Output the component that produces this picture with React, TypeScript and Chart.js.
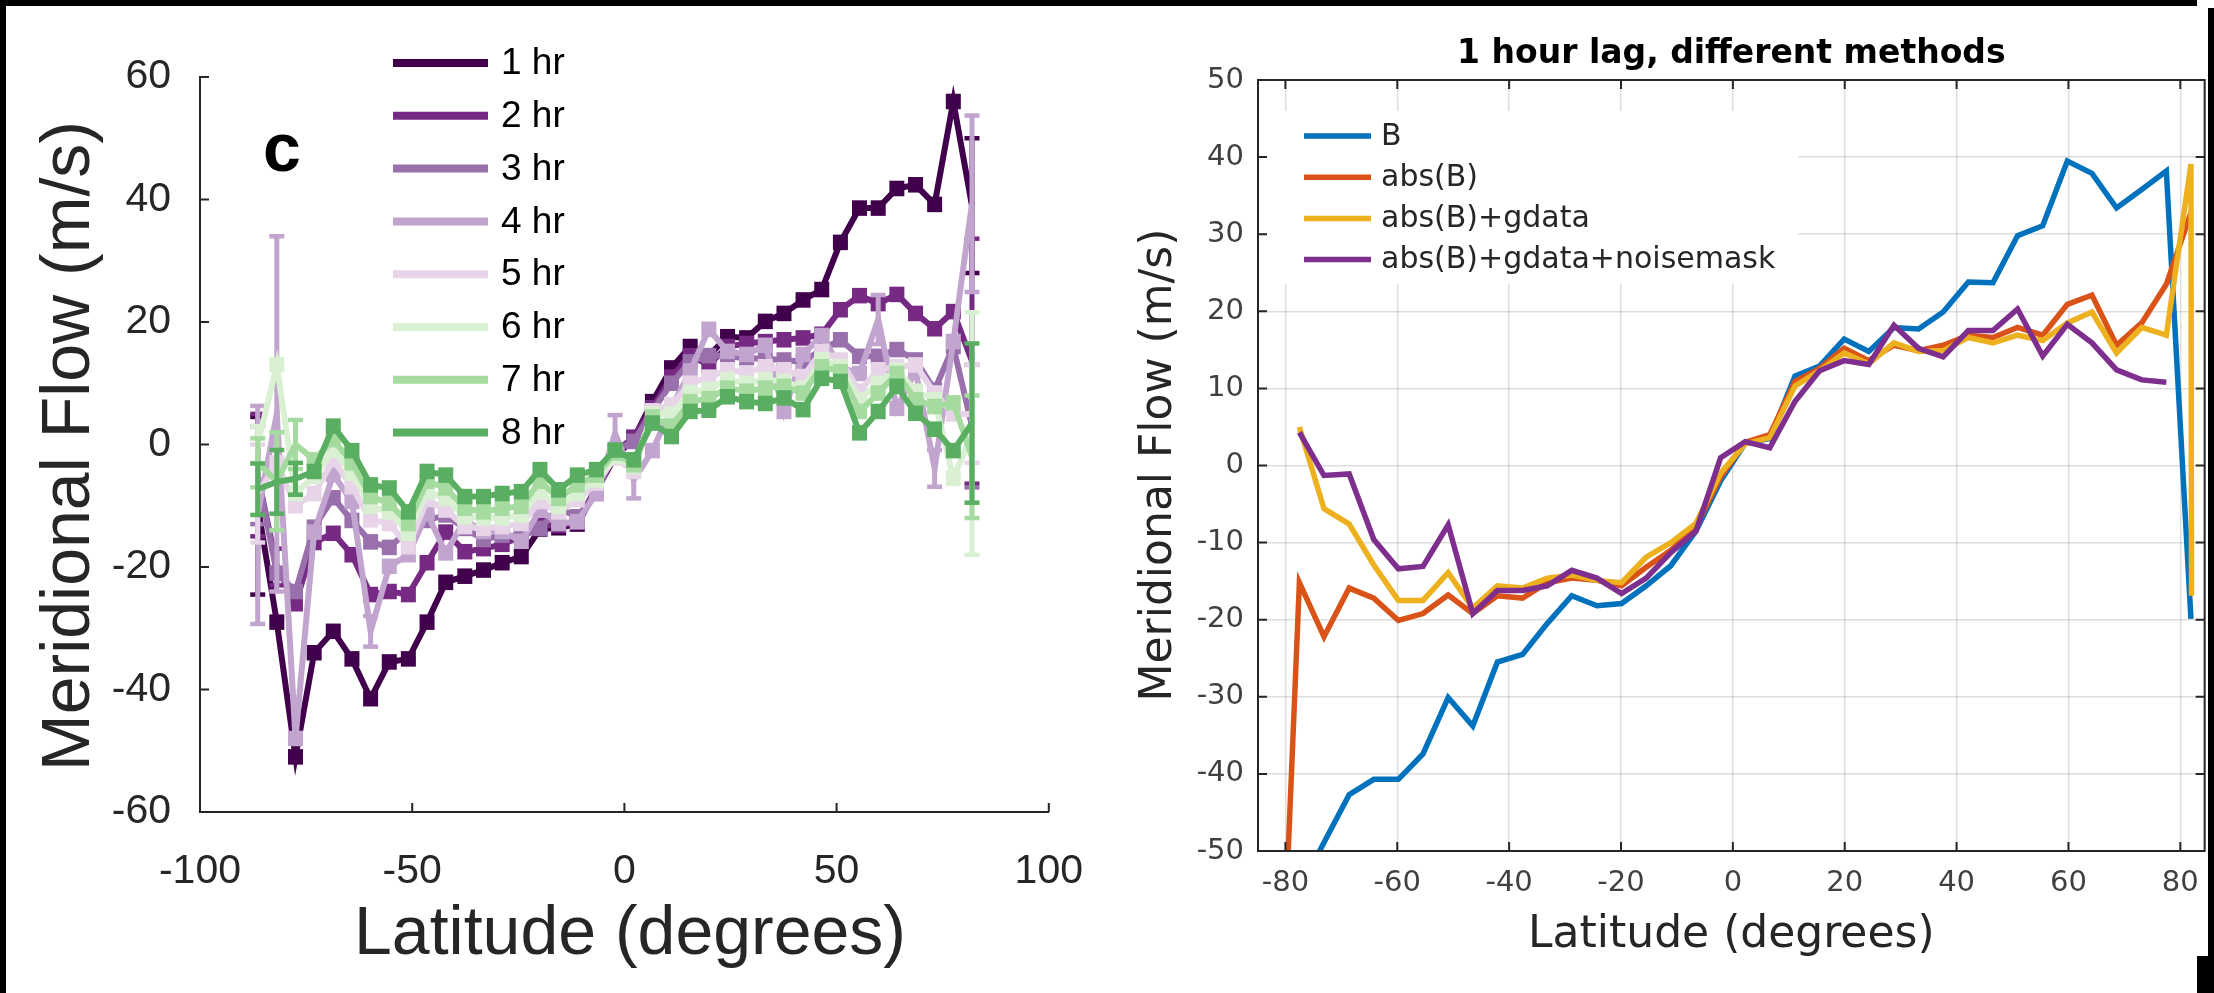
import React, { useEffect, useRef } from 'react';
import { Chart, registerables } from 'chart.js';
Chart.register(...registerables);

// ---------------- Left panel data ----------------
const LAT_L = [-86.4, -81.9, -77.5, -73.1, -68.6, -64.2, -59.8, -55.4, -50.9, -46.5, -42.1, -37.6, -33.2, -28.8, -24.3, -19.9, -15.5, -11.1, -6.6, -2.2, 2.2, 6.6, 11.1, 15.5, 19.9, 24.3, 28.8, 33.2, 37.6, 42.1, 46.5, 50.9, 55.4, 59.8, 64.2, 68.6, 73.1, 77.5, 81.9];
const HR1 = [-10, -29, -51, -34, -30.5, -35, -41.5, -35.5, -35, -29, -22.5, -21.5, -20.5, -19.3, -18.3, -13.8, -13.6, -13, -7.5, -2, 1, 7, 12.5, 16, 14.5, 17.6, 17.4, 20.1, 21.4, 23.6, 25.3, 33, 38.6, 38.6, 41.8, 42.4, 39.2, 56, 39];
const HR2 = [-5, -20, -26, -16, -14.5, -18, -24.5, -24, -24.5, -19.3, -14.3, -17.5, -17, -16.3, -15, -13.2, -13.2, -12.7, -7, -1.3, 1.2, 6, 11, 14.5, 13, 16, 16.5, 16.8, 17.1, 17.4, 18, 22, 24.3, 23, 24.5, 21.4, 18.9, 21.7, 13.6];
const HR3 = [-5, -21, -24, -13.5, -8.7, -12.4, -15.9, -16.8, -14, -12.4, -11.5, -13.7, -15.5, -14.8, -15, -13.7, -10.4, -11.8, -8, -1, 0.5, 5.5, 10, 13.5, 14.5, 14.4, 14.1, 14, 13.8, 13.5, 15.5, 17.1, 14.4, 14.4, 15.5, 13.8, 8.9, 16, 3];
const HR4 = [-11.5, 5, -48, -14.3, -4.9, -9.3, -30.5, -19.9, -18, -11.2, -17.7, -12.3, -14.2, -14.2, -15.8, -10.7, -12.9, -12.6, -8, 1.8, -5.8, -1, 6, 12, 18.8, 15.2, 14.7, 16.2, 5.4, 14.7, 17.8, 12.6, 11.6, 20.4, 5.9, 12.1, -3.9, 16.8, 39.3];
const HR5 = [-8, -3, -10, -8, -2.5, -6.9, -12.3, -12.9, -16.7, -9, -10.7, -13.4, -13.7, -13.4, -12.9, -9.3, -11, -9, -6.3, -2.2, -4.4, 5.5, 6.5, 10, 11, 12.2, 11.7, 12.7, 12.2, 11.1, 15.2, 13.8, 8.7, 12.2, 12.7, 13, 8.4, 5, 5];
const HR6 = [0, 13, -8, -5.2, -0.9, -4.7, -10.1, -11, -14.5, -7.7, -8.8, -11.8, -12, -12, -11.5, -7.7, -10.1, -8, -5.8, -2, -3.6, 5, 5, 8.5, 9, 10.6, 10, 10.6, 10.3, 9.2, 13.8, 12.7, 7.3, 10, 12.2, 8.7, 7.3, -5.5, 1.8];
const HR7 = [-3, -6, 0, -2.5, 0.8, -3, -8.5, -9.6, -12.9, -6, -7.1, -10.4, -11, -10.4, -10.1, -6, -8.8, -6.6, -5, -1.4, -3.3, 4.5, 3, 7, 7.5, 9.2, 8.7, 9.2, 9.5, 8.4, 12.7, 11.9, 5.4, 8.4, 11.6, 7.3, 6.2, 6.8, -2];
const HR8 = [-7.3, -6.1, -5.6, -4.4, 3, -1, -6.6, -7.1, -11, -4.4, -5, -8.5, -8.5, -8, -7.7, -4.1, -7.4, -5, -4.1, -0.9, -2.5, 3.5, 1.3, 5.4, 5.6, 7.8, 7, 6.7, 7.6, 5.7, 10.8, 10.3, 1.9, 5.4, 9.5, 5.1, 2.5, -1, 3.5];
const HOUR_SERIES = [HR1, HR2, HR3, HR4, HR5, HR6, HR7, HR8];
const HOUR_LABELS = ['1 hr', '2 hr', '3 hr', '4 hr', '5 hr', '6 hr', '7 hr', '8 hr'];
const HOUR_COLORS = ['#40004b', '#762a83', '#9970ab', '#c2a5cf', '#e7d4e8', '#d9f0d3', '#a6dba0', '#5aae61'];
const ERR_DEFAULT = 0.9;
// [series index, point index, half-length of error bar]
const ERR_BIG = [
  [0, 0, 14.5], [1, 0, 10], [2, 0, 8], [3, 0, 17.8], [4, 0, 8], [5, 0, 3], [6, 0, 4], [7, 0, 4.2],
  [1, 1, 3], [3, 1, 29], [6, 1, 8], [7, 1, 5.2],
  [6, 2, 4], [7, 2, 2.6],
  [3, 6, 2.5], [3, 19, 3], [3, 20, 3], [3, 33, 4], [3, 36, 3],
  [0, 38, 11], [1, 38, 20], [2, 38, 10], [3, 38, 14.4], [4, 38, 8], [5, 38, 19.8], [6, 38, 10], [7, 38, 13],
];
const Y_TICKS_L = [-60, -40, -20, 0, 20, 40, 60];
const X_TICKS_L = [-100, -50, 0, 50, 100];

// ---------------- Right panel data ----------------
const LAT_R = [-81.9, -77.5, -73.1, -68.6, -64.2, -59.8, -55.4, -50.9, -46.5, -42.1, -37.6, -33.2, -28.8, -24.3, -19.9, -15.5, -11.1, -6.6, -2.2, 2.2, 6.6, 11.1, 15.5, 19.9, 24.3, 28.8, 33.2, 37.6, 42.1, 46.5, 50.9, 55.4, 59.8, 64.2, 68.6, 73.1, 77.5, 81.9, 82.0];
const B_VALS = [null, -55, -48.9, -42.7, -40.7, -40.7, -37.4, -30.1, -33.8, -25.5, -24.5, -20.5, -16.9, -18.2, -17.9, -15.6, -13, -8.5, -2, 2.9, 3.5, 11.6, 12.9, 16.4, 14.8, 17.9, 17.7, 19.9, 23.8, 23.7, 29.8, 31.1, 39.5, 37.9, 33.4, 35.8, 38.2, -19.9, null];
const ABS_VALS = [-92, -15.2, -22.2, -15.9, -17.2, -20.1, -19.2, -16.8, -19.2, -16.9, -17.2, -15.2, -14.6, -14.9, -15.6, -13.2, -11, -8, -1.5, 3, 4, 10.9, 12.6, 15.2, 13.6, 15.6, 14.9, 15.6, 16.9, 16.6, 17.9, 16.9, 20.9, 22.1, 15.6, 18.5, 23.5, 32.8, null];
const GDATA_VALS = [null, 5, -5.6, -7.6, -12.9, -17.5, -17.5, -13.9, -18.5, -15.6, -15.9, -14.6, -14.2, -14.9, -15.2, -11.9, -10, -7.5, -1, 2.8, 3.6, 10.3, 12.3, 14.6, 13.2, 15.9, 14.8, 14.9, 16.6, 15.9, 16.9, 16.2, 18.5, 19.9, 14.6, 17.9, 16.9, 39.1, -16.9];
const NOISE_VALS = [null, 4.3, -1.3, -1.1, -9.6, -13.4, -13.1, -7.7, -19.2, -16.2, -16.2, -15.6, -13.6, -14.6, -16.6, -14.6, -11.3, -8.5, 1, 3.1, 2.3, 8.3, 12.3, 13.6, 13.1, 18.2, 15.2, 14.1, 17.5, 17.5, 20.3, 14.2, 18.3, 15.9, 12.4, 11.1, 10.8, null, null];
const METHOD_SERIES = [B_VALS, ABS_VALS, GDATA_VALS, NOISE_VALS];
const METHOD_LABELS = ['B', 'abs(B)', 'abs(B)+gdata', 'abs(B)+gdata+noisemask'];
const METHOD_COLORS = ['#0072bd', '#d95319', '#edb120', '#7e2f8e'];
const Y_TICKS_R = [-50, -40, -30, -20, -10, 0, 10, 20, 30, 40, 50];
const X_TICKS_R = [-80, -60, -40, -20, 0, 20, 40, 60, 80];

const X_TITLE = 'Latitude (degrees)';
const Y_TITLE = 'Meridional Flow (m/s)';
const R_TITLE = '1 hour lag, different methods';

// ---------------- Layout ----------------
const H = 993;
const W_L = 1110;
const AREA_L = { left: 200, right: 1063, top: 77, bottom: 812 };
const W_R = 1104;
const AREA_R = { left: 148, right: 1095, top: 80, bottom: 851 };
const AXIS = '#262626';

const errorBarPlugin = {
  id: 'errbars',
  afterDatasetDraw(chart: any, args: any) {
    const ds = chart.data.datasets[args.index];
    if (!ds.errs) return;
    const ys = chart.scales.y;
    const ctx = chart.ctx;
    ctx.save();
    ctx.strokeStyle = ds.borderColor;
    ctx.fillStyle = ds.borderColor;
    const cw = 7.5;
    const ch = 4.5;
    args.meta.data.forEach((pt: any, i: number) => {
      const v = ds.data[i].y;
      if (v == null) return;
      const e = ds.errs[i];
      const x = pt.x;
      const yt = ys.getPixelForValue(v + e);
      const yb = ys.getPixelForValue(v - e);
      if (yb - yt < 16) {
        ctx.fillRect(x - cw, yt - ch / 2, 2 * cw, yb - yt + ch);
        return;
      }
      ctx.lineWidth = 5;
      ctx.beginPath();
      ctx.moveTo(x, yt);
      ctx.lineTo(x, yb);
      ctx.stroke();
      ctx.fillRect(x - cw, yt - ch / 2, 2 * cw, ch);
      ctx.fillRect(x - cw, yb - ch / 2, 2 * cw, ch);
    });
    ctx.restore();
  },
};

const leftDecor = {
  id: 'leftDecor',
  afterDraw(chart: any) {
    const { ctx, chartArea: a, scales } = chart;
    ctx.save();
    ctx.strokeStyle = AXIS;
    ctx.lineWidth = 2;
    ctx.beginPath();
    Y_TICKS_L.forEach((v) => {
      const p = scales.y.getPixelForValue(v);
      ctx.moveTo(a.left, p);
      ctx.lineTo(a.left + 9, p);
    });
    X_TICKS_L.forEach((v) => {
      const p = scales.x.getPixelForValue(v);
      ctx.moveTo(p, a.bottom);
      ctx.lineTo(p, a.bottom - 9);
    });
    ctx.stroke();

    ctx.fillStyle = AXIS;
    ctx.font = '68px "Liberation Sans", Arial, sans-serif';
    ctx.textAlign = 'center';
    ctx.textBaseline = 'middle';
    ctx.fillText(X_TITLE, 630, 935);
    ctx.save();
    ctx.translate(70, 446);
    ctx.rotate(-Math.PI / 2);
    ctx.fillText(Y_TITLE, 0, 0);
    ctx.restore();

    ctx.fillStyle = '#000';
    ctx.font = 'bold 68px "Liberation Sans", Arial, sans-serif';
    ctx.textAlign = 'left';
    ctx.textBaseline = 'alphabetic';
    ctx.fillText('c', 263, 171);

    ctx.font = '37px "Liberation Sans", Arial, sans-serif';
    ctx.textBaseline = 'middle';
    HOUR_LABELS.forEach((lab, i) => {
      const y = 63 + 52.8 * i;
      ctx.strokeStyle = HOUR_COLORS[i];
      ctx.lineWidth = 8;
      ctx.beginPath();
      ctx.moveTo(393, y);
      ctx.lineTo(488, y);
      ctx.stroke();
      ctx.fillStyle = '#000';
      ctx.fillText(lab, 501, y + 1);
    });
    ctx.restore();
  },
};

const rightDecor = {
  id: 'rightDecor',
  afterDraw(chart: any) {
    const { ctx, chartArea: a, scales } = chart;
    ctx.save();
    // legend box
    ctx.fillStyle = '#fff';
    ctx.fillRect(157, 111, 531, 173);
    ctx.font = '30px "DejaVu Sans", sans-serif';
    ctx.textAlign = 'left';
    ctx.textBaseline = 'middle';
    METHOD_LABELS.forEach((lab, i) => {
      const y = 136 + 41.2 * i;
      ctx.strokeStyle = METHOD_COLORS[i];
      ctx.lineWidth = 5.5;
      ctx.beginPath();
      ctx.moveTo(194, y);
      ctx.lineTo(261, y);
      ctx.stroke();
      ctx.fillStyle = AXIS;
      ctx.fillText(lab, 271, y + 1);
    });
    // frame and inward ticks
    ctx.strokeStyle = AXIS;
    ctx.lineWidth = 2;
    ctx.strokeRect(a.left, a.top, a.right - a.left, a.bottom - a.top);
    ctx.beginPath();
    Y_TICKS_R.forEach((v) => {
      const p = scales.y.getPixelForValue(v);
      ctx.moveTo(a.left, p);
      ctx.lineTo(a.left + 9, p);
      ctx.moveTo(a.right, p);
      ctx.lineTo(a.right - 9, p);
    });
    X_TICKS_R.forEach((v) => {
      const p = scales.x.getPixelForValue(v);
      ctx.moveTo(p, a.bottom);
      ctx.lineTo(p, a.bottom - 9);
      ctx.moveTo(p, a.top);
      ctx.lineTo(p, a.top + 9);
    });
    ctx.stroke();
    // titles
    ctx.fillStyle = '#000';
    ctx.textAlign = 'center';
    ctx.textBaseline = 'alphabetic';
    ctx.font = 'bold 33px "DejaVu Sans", sans-serif';
    ctx.fillText(R_TITLE, (a.left + a.right) / 2, 63);
    ctx.fillStyle = AXIS;
    ctx.font = '44px "DejaVu Sans", sans-serif';
    ctx.textBaseline = 'middle';
    ctx.fillText(X_TITLE, (a.left + a.right) / 2, 936);
    ctx.save();
    ctx.translate(50, 465);
    ctx.rotate(-Math.PI / 2);
    ctx.fillText(Y_TITLE, 0, 0);
    ctx.restore();
    ctx.restore();
  },
};

function errsFor(s: number) {
  return LAT_L.map((_, j) => {
    const o = ERR_BIG.find((e) => e[0] === s && e[1] === j);
    return o ? o[2] : ERR_DEFAULT;
  });
}

function LeftChart() {
  const ref = useRef<HTMLCanvasElement | null>(null);
  useEffect(() => {
    if (!ref.current) return;
    const chart = new Chart(ref.current, {
      type: 'line',
      data: {
        datasets: HOUR_SERIES.map((vals, i) => ({
          label: HOUR_LABELS[i],
          data: LAT_L.map((x, j) => ({ x, y: vals[j] })),
          borderColor: HOUR_COLORS[i],
          backgroundColor: HOUR_COLORS[i],
          borderWidth: 6,
          pointRadius: 0,
          tension: 0,
          order: 10 - i,
          errs: errsFor(i),
        })) as any,
      },
      options: {
        responsive: false,
        animation: false,
        events: [],
        layout: { padding: { left: 0, right: W_L - AREA_L.right, top: AREA_L.top, bottom: 0 } },
        plugins: { legend: { display: false }, tooltip: { enabled: false }, title: { display: false } },
        scales: {
          x: {
            type: 'linear',
            min: -100,
            max: 100,
            afterFit: (s: any) => { s.height = H - AREA_L.bottom; },
            afterBuildTicks: (s: any) => { s.ticks = X_TICKS_L.map((v) => ({ value: v })); },
            grid: { display: false },
            border: { display: true, color: AXIS, width: 2 },
            ticks: {
              font: { family: '"Liberation Sans", Arial, sans-serif', size: 41 },
              color: AXIS,
              padding: 27,
              maxRotation: 0,
              autoSkip: false,
              callback: (v: any) => String(v),
            },
          },
          y: {
            type: 'linear',
            min: -60,
            max: 60,
            afterFit: (s: any) => { s.width = AREA_L.left; },
            afterBuildTicks: (s: any) => { s.ticks = Y_TICKS_L.map((v) => ({ value: v })); },
            grid: { display: false },
            border: { display: true, color: AXIS, width: 2 },
            ticks: {
              font: { family: '"Liberation Sans", Arial, sans-serif', size: 41 },
              color: AXIS,
              padding: 21,
              autoSkip: false,
              callback: (v: any) => String(v),
            },
          },
        },
      } as any,
      plugins: [errorBarPlugin, leftDecor],
    });
    return () => chart.destroy();
  }, []);
  return <canvas ref={ref} width={W_L} height={H} style={{ position: 'absolute', left: 0, top: 0, width: W_L, height: H }} />;
}

function RightChart() {
  const ref = useRef<HTMLCanvasElement | null>(null);
  useEffect(() => {
    if (!ref.current) return;
    const chart = new Chart(ref.current, {
      type: 'line',
      data: {
        datasets: METHOD_SERIES.map((vals, i) => ({
          label: METHOD_LABELS[i],
          data: LAT_R.map((x, j) => ({ x, y: vals[j] })),
          borderColor: METHOD_COLORS[i],
          backgroundColor: METHOD_COLORS[i],
          borderWidth: 5.5,
          pointRadius: 0,
          tension: 0,
          spanGaps: false,
          order: 10 - i,
        })) as any,
      },
      options: {
        responsive: false,
        animation: false,
        events: [],
        layout: { padding: { left: 0, right: W_R - AREA_R.right, top: AREA_R.top, bottom: 0 } },
        plugins: { legend: { display: false }, tooltip: { enabled: false }, title: { display: false } },
        scales: {
          x: {
            type: 'linear',
            min: -84.9,
            max: 84.35,
            afterFit: (s: any) => { s.height = H - AREA_R.bottom; },
            afterBuildTicks: (s: any) => { s.ticks = X_TICKS_R.map((v) => ({ value: v })); },
            grid: { display: true, drawTicks: false, color: 'rgba(0,0,0,0.13)', lineWidth: 1.5 },
            border: { display: false },
            ticks: {
              font: { family: '"DejaVu Sans", sans-serif', size: 29 },
              color: '#404040',
              padding: 15,
              maxRotation: 0,
              autoSkip: false,
              callback: (v: any) => String(v),
            },
          },
          y: {
            type: 'linear',
            min: -50,
            max: 50,
            afterFit: (s: any) => { s.width = AREA_R.left; },
            afterBuildTicks: (s: any) => { s.ticks = Y_TICKS_R.map((v) => ({ value: v })); },
            grid: { display: true, drawTicks: false, color: 'rgba(0,0,0,0.13)', lineWidth: 1.5 },
            border: { display: false },
            ticks: {
              font: { family: '"DejaVu Sans", sans-serif', size: 29 },
              color: '#404040',
              padding: 14,
              autoSkip: false,
              callback: (v: any) => String(v),
            },
          },
        },
      } as any,
      plugins: [rightDecor],
    });
    return () => chart.destroy();
  }, []);
  return <canvas ref={ref} width={W_R} height={H} style={{ position: 'absolute', left: W_L, top: 0, width: W_R, height: H }} />;
}

export default function App() {
  const black = { position: 'absolute' as const, background: '#000' };
  return (
    <div style={{ position: 'fixed', left: 0, top: 0, width: 2214, height: H, background: '#fff', overflow: 'hidden' }}>
      <LeftChart />
      <RightChart />
      <div style={{ ...black, left: 0, top: 0, width: 2197, height: 6 }} />
      <div style={{ ...black, left: 0, top: 0, width: 6, height: H }} />
      <div style={{ ...black, left: 2208, top: 8, width: 6, height: H - 8 }} />
      <div style={{ ...black, left: 2197, top: 956, width: 17, height: 37 }} />
    </div>
  );
}
